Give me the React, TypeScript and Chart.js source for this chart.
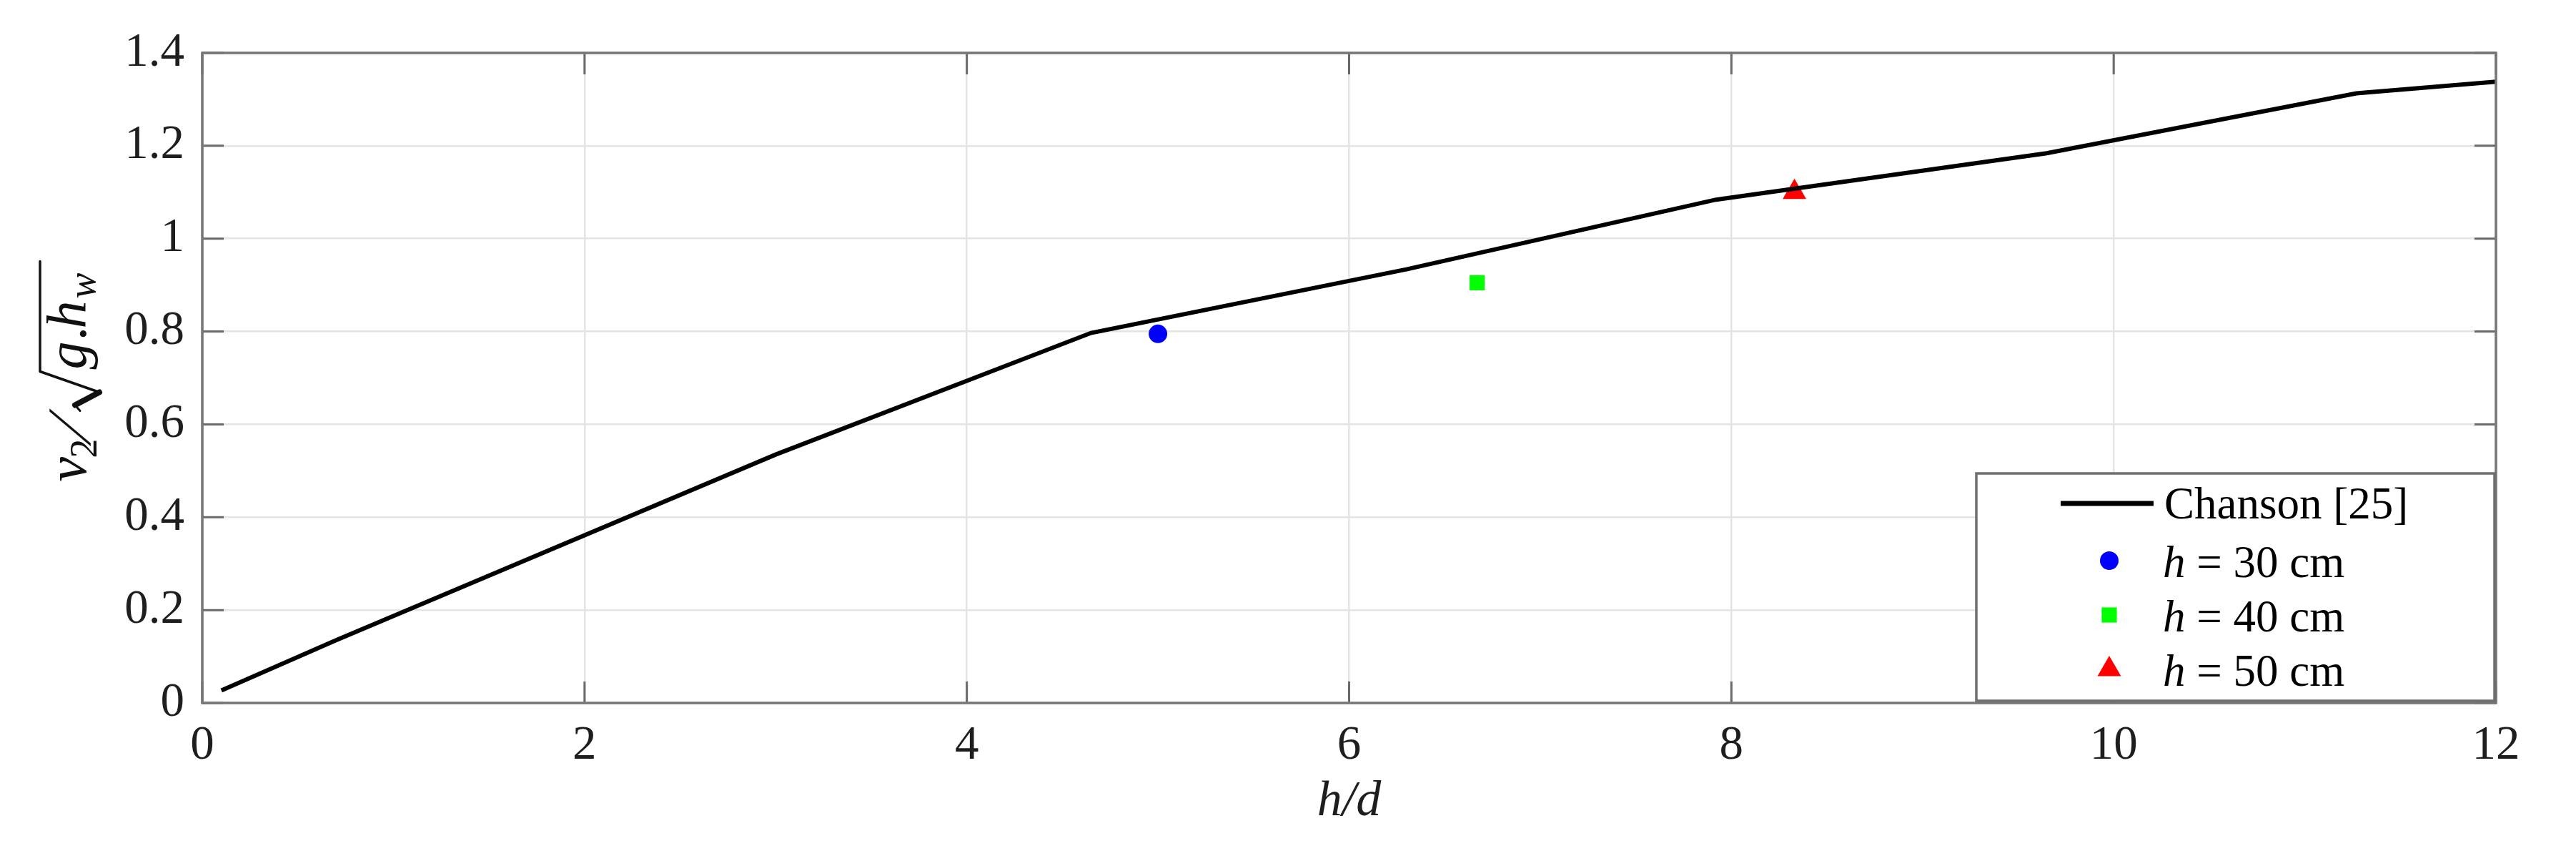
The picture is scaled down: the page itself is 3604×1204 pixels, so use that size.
import React, { useEffect, useRef } from "react";
import { Chart, registerables } from "chart.js";

Chart.register(...registerables);

// Chanson [25] curve
const chansonHd = [0.1, 0.7, 3.0, 4.65, 6.3, 7.92, 9.65, 11.27, 12.0];
const chansonV = [0.027, 0.135, 0.535, 0.797, 0.934, 1.084, 1.184, 1.313, 1.338];

// experimental points
const h30Hd = [5.0];
const h30V = [0.795];
const h40Hd = [6.67];
const h40V = [0.905];
const h50Hd = [8.33];
const h50V = [1.1];

const seriesLabels = ["Chanson [25]", "h = 30 cm", "h = 40 cm", "h = 50 cm"];
const xTicks = [0, 2, 4, 6, 8, 10, 12];
const yTicks = [0, 0.2, 0.4, 0.6, 0.8, 1, 1.2, 1.4];

const SERIF = "'Liberation Serif', 'Times New Roman', serif";

function pts(xs: number[], ys: number[]) {
  return xs.map((x, i) => ({ x, y: ys[i] }));
}

function drawMarker(ctx: CanvasRenderingContext2D, style: string, x: number, y: number, r: number, color: string) {
  ctx.save();
  ctx.fillStyle = color;
  ctx.beginPath();
  if (style === "circle") {
    ctx.arc(x, y, r, 0, Math.PI * 2);
  } else if (style === "rect") {
    const s = Math.SQRT1_2 * r;
    ctx.rect(x - s, y - s, 2 * s, 2 * s);
  } else if (style === "triangle") {
    const a1 = (2 * Math.PI) / 3;
    const a2 = (4 * Math.PI) / 3;
    ctx.moveTo(x, y - r);
    ctx.lineTo(x + Math.sin(a1) * r, y - Math.cos(a1) * r);
    ctx.lineTo(x + Math.sin(a2) * r, y - Math.cos(a2) * r);
    ctx.closePath();
  }
  ctx.fill();
  ctx.restore();
}

const framePlugin = {
  id: "matlabFrame",
  afterDatasetsDraw(chart: any) {
    const { ctx, chartArea } = chart;
    const { left, right, top, bottom } = chartArea;
    const xs = chart.scales.x;
    const ys = chart.scales.y;
    ctx.save();
    ctx.strokeStyle = "#6a6a6a";
    ctx.lineWidth = 3;
    const tl = 30;
    ctx.beginPath();
    xTicks.forEach((v) => {
      const px = xs.getPixelForValue(v);
      ctx.moveTo(px, bottom);
      ctx.lineTo(px, bottom - tl);
      ctx.moveTo(px, top);
      ctx.lineTo(px, top + tl);
    });
    yTicks.forEach((v) => {
      const py = ys.getPixelForValue(v);
      ctx.moveTo(left, py);
      ctx.lineTo(left + tl, py);
      ctx.moveTo(right, py);
      ctx.lineTo(right - tl, py);
    });
    ctx.stroke();
    ctx.strokeStyle = "#767676";
    ctx.lineWidth = 3.5;
    ctx.strokeRect(left, top, right - left, bottom - top);
    ctx.restore();
  },
  afterDraw(chart: any) {
    const { ctx, chartArea } = chart;
    // ---------- legend ----------
    const bw = 725;
    const bh = 318;
    const bx = chartArea.right - 2 - bw;
    const by = chartArea.bottom - 3 - bh;
    ctx.save();
    ctx.fillStyle = "#ffffff";
    ctx.fillRect(bx, by, bw, bh);
    ctx.strokeStyle = "#6e6e6e";
    ctx.lineWidth = 3.5;
    ctx.strokeRect(bx, by, bw, bh);
    const rows = [46, 122, 198, 274];
    const ds = chart.data.datasets;
    ctx.textBaseline = "middle";
    ctx.fillStyle = "#000";
    ds.forEach((d: any, i: number) => {
      const cy = by + rows[i];
      if (i === 0) {
        ctx.strokeStyle = d.borderColor;
        ctx.lineWidth = 7;
        ctx.beginPath();
        ctx.moveTo(bx + 118, cy - 4);
        ctx.lineTo(bx + 248, cy - 4);
        ctx.stroke();
        ctx.fillStyle = "#000";
        ctx.font = `63px ${SERIF}`;
        ctx.textAlign = "left";
        ctx.fillText(d.label, bx + 263, cy);
      } else {
        drawMarker(ctx, d.pointStyle, bx + 186, cy, d.pointRadius, d.backgroundColor);
        const label: string = d.label;
        const first = label.charAt(0);
        const rest = label.slice(1);
        ctx.fillStyle = "#000";
        ctx.textAlign = "left";
        ctx.font = `italic 63px ${SERIF}`;
        ctx.fillText(first, bx + 261, cy + 6);
        const w1 = ctx.measureText(first).width;
        ctx.font = `63px ${SERIF}`;
        ctx.fillText(rest, bx + 261 + w1, cy + 6);
      }
    });
    ctx.restore();

    // ---------- y-axis label: v2 / sqrt(g.h_w) ----------
    const ox = 120;
    const oy = (chartArea.top + chartArea.bottom) / 2 + 145;
    ctx.save();
    ctx.translate(ox, oy);
    ctx.rotate(-Math.PI / 2);
    ctx.fillStyle = "#111";
    ctx.strokeStyle = "#111";
    ctx.textBaseline = "alphabetic";
    ctx.textAlign = "left";
    ctx.font = `italic 78px ${SERIF}`;
    ctx.fillText("v", 0, 0);
    ctx.font = `54px ${SERIF}`;
    ctx.fillText("2", 33, 15);
    // slanted slash
    ctx.save();
    ctx.translate(50, 6);
    ctx.transform(1, 0, -0.5, 1, 0, 0);
    ctx.font = `86px ${SERIF}`;
    ctx.fillText("/", 0, 0);
    ctx.restore();
    // radical
    ctx.lineCap = "round";
    ctx.lineJoin = "round";
    ctx.lineWidth = 3;
    ctx.beginPath();
    ctx.moveTo(99, -8);
    ctx.lineTo(107, -15);
    ctx.stroke();
    ctx.lineWidth = 8;
    ctx.beginPath();
    ctx.moveTo(107, -15);
    ctx.lineTo(125, 19);
    ctx.stroke();
    ctx.lineWidth = 3.5;
    ctx.beginPath();
    ctx.moveTo(125, 19);
    ctx.lineTo(154, -64);
    ctx.lineTo(308, -64);
    ctx.stroke();
    ctx.font = `italic 78px ${SERIF}`;
    ctx.fillText("g", 157, 0);
    ctx.fillText(".", 199, 0);
    ctx.fillText("h", 214, 0);
    ctx.font = `italic 54px ${SERIF}`;
    ctx.fillText("w", 256, 13);
    ctx.restore();
  },
};

export default function App() {
  const canvasRef = useRef<HTMLCanvasElement | null>(null);

  useEffect(() => {
    const canvas = canvasRef.current;
    if (!canvas) return;
    const chart = new Chart(canvas, {
      type: "scatter",
      data: {
        datasets: [
          {
            type: "line",
            label: seriesLabels[0],
            data: pts(chansonHd, chansonV),
            borderColor: "#000000",
            backgroundColor: "#000000",
            borderWidth: 6,
            pointRadius: 0,
            tension: 0,
            fill: false,
          } as any,
          {
            label: seriesLabels[1],
            data: pts(h30Hd, h30V),
            pointStyle: "circle",
            pointRadius: 13,
            backgroundColor: "#0000ff",
            borderColor: "#0000ff",
            borderWidth: 0,
          },
          {
            label: seriesLabels[2],
            data: pts(h40Hd, h40V),
            pointStyle: "rect",
            pointRadius: 15,
            backgroundColor: "#00ff00",
            borderColor: "#00ff00",
            borderWidth: 0,
          },
          {
            label: seriesLabels[3],
            data: pts(h50Hd, h50V),
            pointStyle: "triangle",
            pointRadius: 19,
            backgroundColor: "#ff0000",
            borderColor: "#ff0000",
            borderWidth: 0,
          },
        ],
      },
      options: {
        animation: false,
        responsive: false,
        devicePixelRatio: 1,
        layout: { padding: { top: 74, right: 112, bottom: 0, left: 0 } },
        plugins: {
          legend: { display: false },
          tooltip: { enabled: false },
        },
        scales: {
          x: {
            type: "linear",
            min: 0,
            max: 12,
            afterFit: (s: any) => {
              s.height = 221;
            },
            afterBuildTicks: (s: any) => {
              s.ticks = xTicks.map((v) => ({ value: v }));
            },
            ticks: {
              color: "#1e1e1e",
              font: { family: SERIF, size: 67 },
              padding: 20,
              maxRotation: 0,
            },
            grid: { color: "#e4e4e4", lineWidth: 2.5, drawTicks: false },
            border: { display: false },
            title: {
              display: true,
              text: "h/d",
              color: "#1e1e1e",
              font: { family: SERIF, size: 70, style: "italic" },
              padding: { top: 0, bottom: 40 },
            },
          },
          y: {
            type: "linear",
            min: 0,
            max: 1.4,
            afterFit: (s: any) => {
              s.width = 283;
            },
            afterBuildTicks: (s: any) => {
              s.ticks = yTicks.map((v) => ({ value: v }));
            },
            ticks: {
              color: "#1e1e1e",
              font: { family: SERIF, size: 67 },
              padding: 25,
              callback: (v: any) => String(Math.round(Number(v) * 10) / 10),
            },
            grid: { color: "#e4e4e4", lineWidth: 2.5, drawTicks: false },
            border: { display: false },
          },
        },
      },
      plugins: [framePlugin],
    });
    return () => chart.destroy();
  }, []);

  return (
    <div style={{ position: "fixed", left: 0, top: 0, width: 3604, height: 1204, background: "#ffffff" }}>
      <canvas ref={canvasRef} width={3604} height={1204} style={{ width: 3604, height: 1204, display: "block" }} />
    </div>
  );
}
